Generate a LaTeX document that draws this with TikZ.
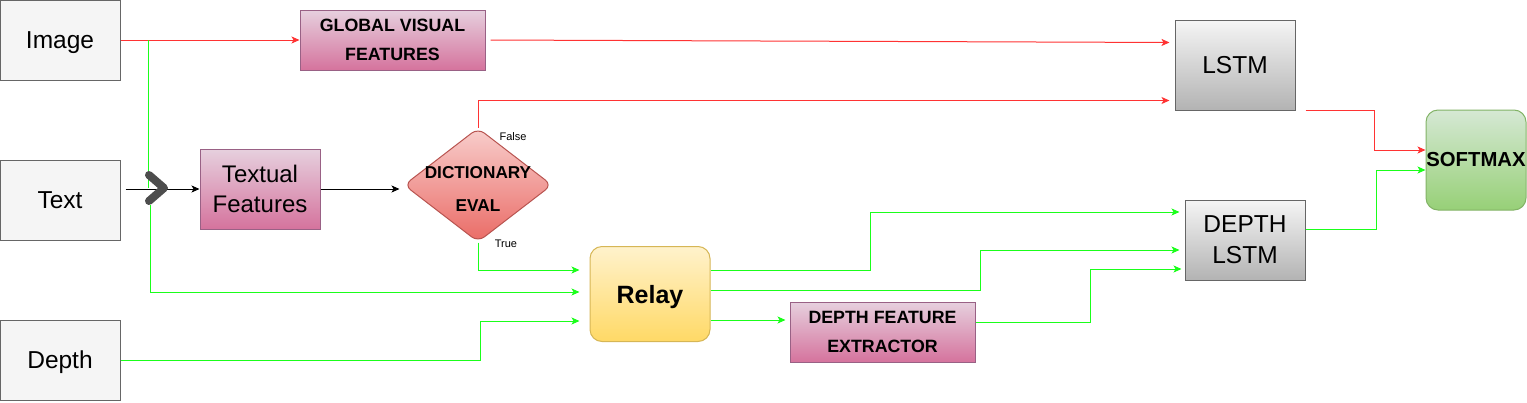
\documentclass[tikz,border=0pt]{standalone}
\usepackage{fontspec}
\setmainfont{Liberation Sans}
\usetikzlibrary{shapes.geometric,arrows.meta,calc}

\definecolor{inputfill}{HTML}{F5F5F5}
\definecolor{inputdraw}{HTML}{666666}
\definecolor{feattop}{HTML}{E6D0DE}
\definecolor{featbot}{HTML}{D5739D}
\definecolor{featdraw}{HTML}{996185}
\definecolor{dicttop}{HTML}{F8CECC}
\definecolor{dictbot}{HTML}{EA6B66}
\definecolor{dictdraw}{HTML}{B85450}
\definecolor{lstmbot}{HTML}{B3B3B3}
\definecolor{relaytop}{HTML}{FFF2CC}
\definecolor{relaybot}{HTML}{FFD966}
\definecolor{relaydraw}{HTML}{D6B656}
\definecolor{softtop}{HTML}{D5E8D4}
\definecolor{softbot}{HTML}{97D077}
\definecolor{softdraw}{HTML}{82B366}
\definecolor{linered}{HTML}{FF3333}
\definecolor{linegreen}{HTML}{1AFF1A}
\definecolor{mergegray}{HTML}{4D4D4D}

\begin{document}
\begin{tikzpicture}[
		x=1pt, y=-1pt,
		every node/.style = {inner sep=0pt, align=center},
		inbox/.style = {
			shape=rectangle, draw=inputdraw, fill=inputfill, line width=1pt,
			minimum width=120pt, minimum height=80pt, text depth=0pt,
			font=\fontsize{24.5}{30}\selectfont},
		featbox/.style = {
			shape=rectangle, draw=featdraw, line width=1pt,
			top color=feattop, bottom color=featbot,
			minimum width=185pt, minimum height=60pt,
			font=\bfseries\fontsize{17.8}{29}\selectfont},
		lstmbox/.style = {
			shape=rectangle, draw=inputdraw, line width=1pt,
			top color=inputfill, bottom color=lstmbot,
			minimum width=120pt, minimum height=80pt,
			font=\fontsize{24.5}{31}\selectfont},
		redarrow/.style = {draw=linered, line width=1pt,
			-{Stealth[length=8pt,width=7pt,inset=2pt]}},
		greenarrow/.style = {draw=linegreen, line width=1pt,
			-{Stealth[length=8pt,width=7pt,inset=2pt]}},
		blackarrow/.style = {draw=black, line width=1pt,
			-{Stealth[length=8pt,width=7pt,inset=2pt]}},
		flag/.style = {font=\fontsize{11}{13}\selectfont}]

		\useasboundingbox (0,0) rectangle (1527,402);

		% inputs
		\node[inbox] (img) at (60,40) {Image};
		\node[inbox] (txt) at (60,200) {Text};
		\node[inbox] (dep) at (60,360) {Depth};

		% feature blocks
		\node[featbox] (gvf) at (392.5,40) {GLOBAL VISUAL\\FEATURES};
		\node[featbox, minimum width=120pt, minimum height=80pt,
			font=\fontsize{24}{30}\selectfont] (tf) at (260,189) {Textual\\Features};
		\node[shape=diamond, draw=dictdraw, line width=1pt, rounded corners=8pt,
			top color=dicttop, bottom color=dictbot,
			minimum width=148pt, minimum height=114pt,
			label={[font=\bfseries\fontsize{17.2}{33}\selectfont, align=center, yshift=-4pt]center:DICTIONARY\\EVAL}]
			(dict) at (478,185) {};
		\node[featbox] (dfe) at (882.5,332) {DEPTH FEATURE\\EXTRACTOR};
		\node[shape=rectangle, rounded corners=12pt, draw=relaydraw, line width=1pt,
			top color=relaytop, bottom color=relaybot,
			minimum width=120pt, minimum height=95pt, text depth=0pt,
			font=\bfseries\fontsize{25}{30}\selectfont] (relay) at (650,294) {Relay};

		% recurrent part
		\node[lstmbox, minimum height=90pt] (lstm) at (1235,65) {LSTM};
		\node[lstmbox] (dlstm) at (1245,240) {DEPTH\\LSTM};
		\node[shape=rectangle, rounded corners=12pt, draw=softdraw, line width=1pt,
			top color=softtop, bottom color=softbot,
			minimum width=100pt, minimum height=100pt,
			font=\bfseries\fontsize{20.3}{24}\selectfont] (soft) at (1476,160) {SOFTMAX};

		\coordinate (split) at (148,40);
		\coordinate (merge) at (155,188);

		% image branch
		\draw[redarrow] (img.east) -- (gvf.west);
		\draw[redarrow, shorten <=5pt, shorten >=5pt] (gvf.east) -- ($(lstm.north west)+(0,23)$);
		\draw[draw=linegreen, line width=1pt] (split) -- (split |- merge);

		% text branch
		\draw[blackarrow] ($(txt.east |- tf.west)+(5,0)$) -- (tf.west);
		\draw[blackarrow, shorten >=4pt] (tf.east) -- (tf.east -| dict.west);
		\draw[redarrow] (dict.north) |- ($(lstm.south west)+(-5,-10)$);
		\draw[greenarrow] (dict.south) |- ($(relay.west)+(-10,-24)$);
		\node[flag] at ($(dict.north)+(35,9)$) {False};
		\node[flag] at ($(dict.south)+(28,1)$) {True};
		\draw[greenarrow] ($(merge)+(-5,17)$) |- ($(relay.west)+(-10,-2)$);

		% depth branch
		\draw[greenarrow] (dep.east) -- ++(360,0) |- ($(relay.west)+(-10,27)$);
		\draw[greenarrow] ($(relay.east)+(0,-24)$) -- ++(160,0) |- ($(dlstm.west)+(-5,-28)$);
		\draw[greenarrow] ($(relay.east)+(0,-4)$) -- ++(270,0) |- ($(dlstm.west)+(-5,10)$);
		\draw[greenarrow] ($(relay.east)+(0,26)$) -- ($(dfe.west)+(-4,-12)$);
		\draw[greenarrow] ($(dfe.east)+(0,-10)$) -- ++(115,0) |- ($(dlstm.west)+(-3,29)$);

		% outputs
		\draw[redarrow] ($(lstm.south east)+(10,0)$) -- ++(69,0) |- ($(soft.west)+(0,-10)$);
		\draw[greenarrow] ($(dlstm.east)+(0,-11)$) -- ++(71,0) |- ($(soft.west)+(0,10)$);

		% merge chevron
		\draw[mergegray, line width=8pt, line cap=round, line join=round]
			($(merge)+(-6,-13)$) -- ($(merge)+(9,0)$) -- ($(merge)+(-6,13)$);
\end{tikzpicture}
\end{document}
